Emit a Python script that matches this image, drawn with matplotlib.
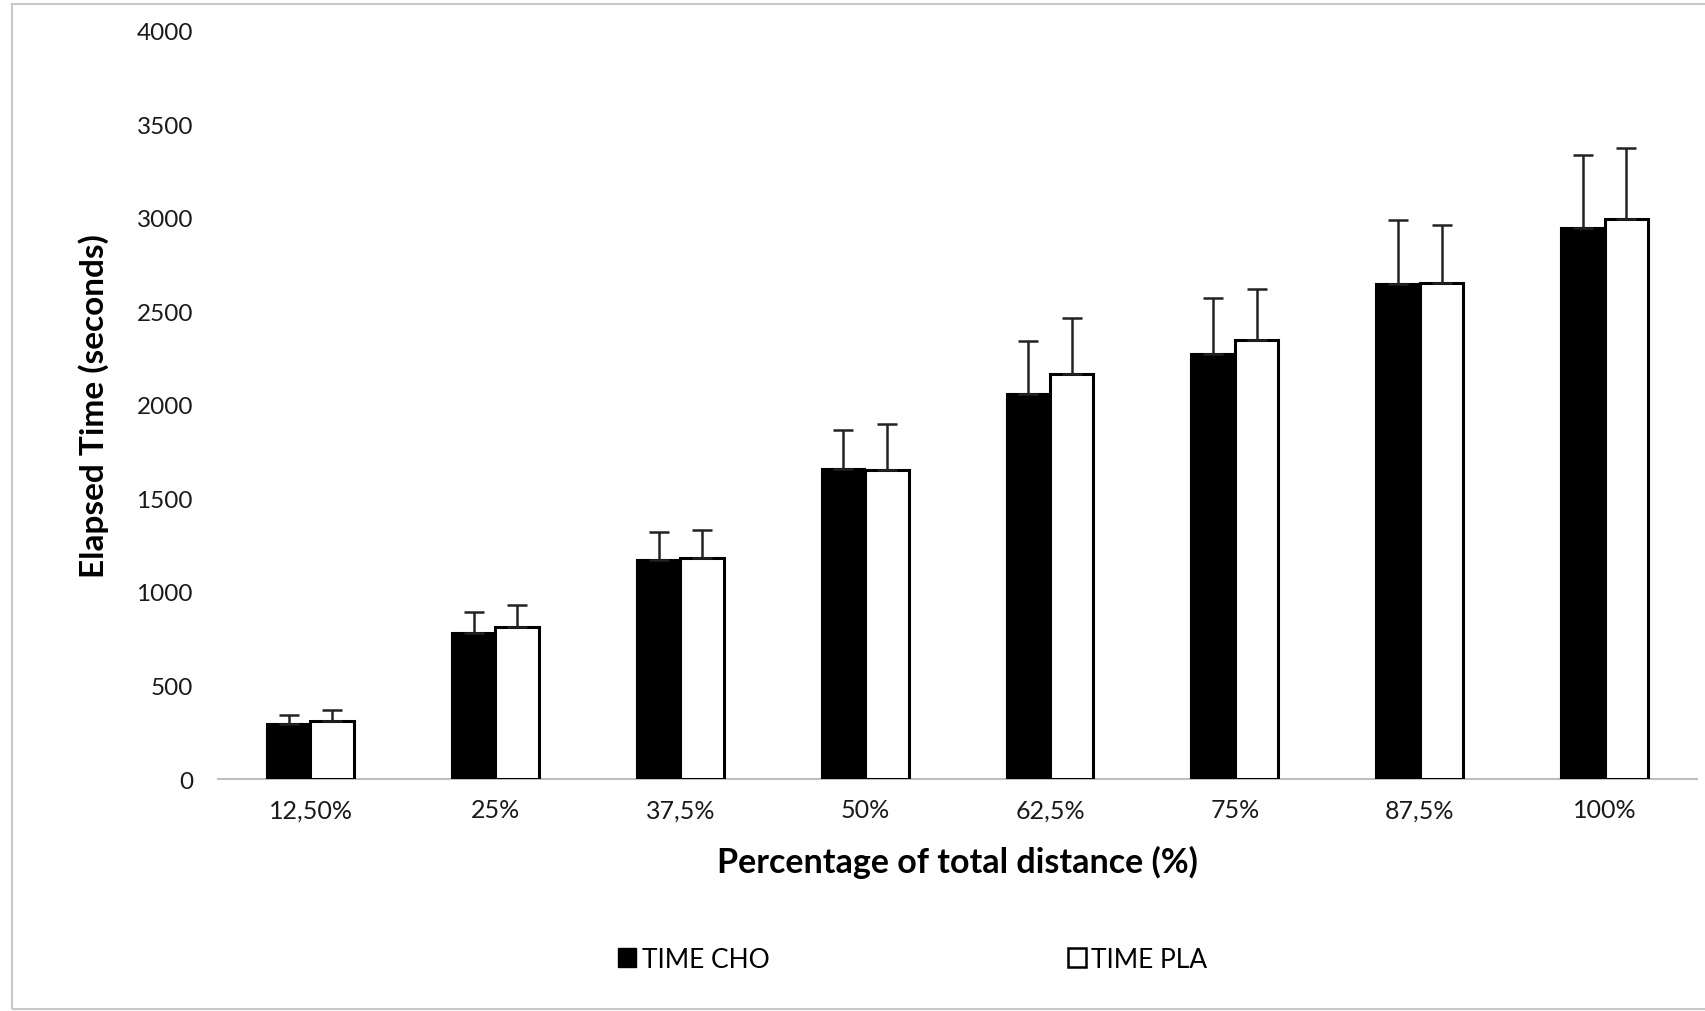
import matplotlib
matplotlib.use('Agg')
import matplotlib.pyplot as plt
from matplotlib.patches import Patch, Rectangle
import numpy as np

# ── Data ───────────────────────────────────────────────────────────────
categories = ['12,50%', '25%', '37,5%', '50%', '62,5%', '75%', '87,5%', '100%']
cho_mean = [294, 780, 1169, 1656, 2056, 2270, 2645, 2944]
cho_err  = [50, 112, 150, 207, 287, 303, 340, 393]
pla_mean = [309, 812, 1183, 1649, 2164, 2345, 2648, 2992]
pla_err  = [60, 116, 150, 246, 297, 274, 314, 380]

plt.rcParams['font.family'] = ['Lato', 'DejaVu Sans']

fig = plt.figure(figsize=(17.06, 10.12), dpi=100, facecolor='white')
ax = fig.add_axes([0.1278, 0.2292, 0.867, 0.7397])

x = np.arange(len(categories))
w = 0.235

ax.bar(x - w/2, cho_mean, w, color='black', edgecolor='black', linewidth=1.5,
       yerr=[np.zeros(len(cho_err)), cho_err], capsize=7,
       error_kw=dict(ecolor='#222222', elinewidth=1.8, capthick=1.8))
ax.bar(x + w/2, pla_mean, w, color='white', edgecolor='black', linewidth=2.2,
       yerr=[np.zeros(len(pla_err)), pla_err], capsize=7,
       error_kw=dict(ecolor='#222222', elinewidth=1.8, capthick=1.8))

ax.set_xlim(-0.5, len(categories) - 0.5)
ax.set_ylim(0, 4000)
ax.set_yticks(np.arange(0, 4001, 500))
ax.set_xticks(x)
ax.set_xticklabels(categories)

for s in ['top', 'right', 'left']:
    ax.spines[s].set_visible(False)
ax.spines['bottom'].set_color('#bfbfbf')
ax.spines['bottom'].set_linewidth(1.5)
ax.spines['bottom'].set_zorder(0)

ax.tick_params(axis='y', length=0, pad=18, labelsize=17.5, colors='#1a1a1a')
ax.tick_params(axis='x', length=0, pad=14, labelsize=18, colors='#1a1a1a')

ax.set_ylabel('Elapsed Time (seconds)', fontsize=24, fontweight='bold', color='black')
ax.yaxis.set_label_coords(-0.074, 0.5)
ax.set_xlabel('Percentage of total distance (%)', fontsize=24.5, fontweight='bold', color='black')
ax.xaxis.set_label_coords(0.5, -0.088)

handles = [Patch(facecolor='black', edgecolor='black', label='TIME CHO'),
           Patch(facecolor='white', edgecolor='black', linewidth=1.8, label='TIME PLA')]
fig.legend(handles=handles, loc='center', bbox_to_anchor=(0.535, 0.051), ncol=2,
           frameon=False, fontsize=19, handlelength=0.7, handleheight=0.7,
           handletextpad=0.2, columnspacing=11.3)

# outer chart border
fig.patches.append(Rectangle((12/1706, 2/1012), 1.0, 1 - 7/1012,
                             transform=fig.transFigure, fill=False,
                             edgecolor='#c8c8c8', linewidth=1.5))

plt.savefig('out.png', dpi=100, facecolor='white')
